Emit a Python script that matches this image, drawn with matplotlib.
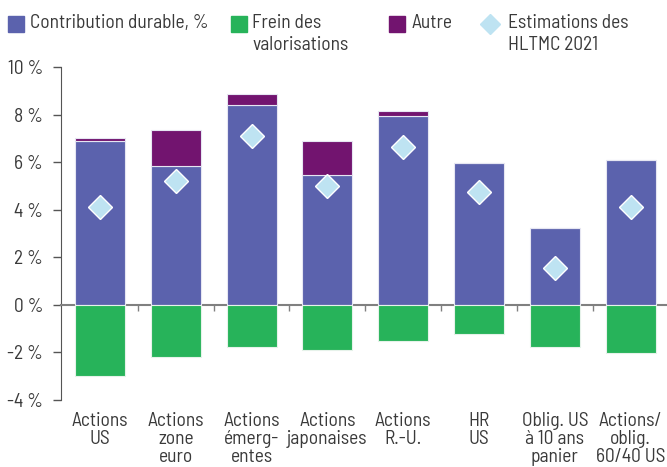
import matplotlib
matplotlib.use('Agg')
import matplotlib.pyplot as plt
import numpy as np
from matplotlib.patches import Rectangle
from matplotlib.lines import Line2D

categories = ["Actions\nUS", "Actions\nzone\neuro", "Actions\némerg-\nentes",
              "Actions\njaponaises", "Actions\nR.-U.", "HR\nUS",
              "Oblig. US\nà 10 ans\npanier", "Actions/\noblig.\n60/40 US"]
durable = [6.9, 5.85, 8.4, 5.45, 7.95, 5.95, 3.25, 6.1]
autre = [0.12, 1.5, 0.45, 1.42, 0.18, 0, 0, 0]
frein = [-2.97, -2.2, -1.78, -1.88, -1.53, -1.23, -1.78, -2.04]
estim = [4.1, 5.2, 7.1, 5.0, 6.65, 4.75, 1.55, 4.1]
yticks = [-4, -2, 0, 2, 4, 6, 8, 10]

c_blue = '#5b62ad'
c_green = '#27b35a'
c_purple = '#72146f'
c_diam = '#bee3f2'
txt = '#3a3a3a'

plt.rcParams['font.family'] = ['Barlow Semi Condensed', 'Archivo Narrow', 'DejaVu Sans']
plt.rcParams['font.size'] = 14

W, H = 667, 467
fig = plt.figure(figsize=(W / 100, H / 100), dpi=100)
ax = fig.add_axes([60.5 / W, 1 - 400 / H, 1 - 60.5 / W, 333 / H])

x = np.arange(len(categories))
w = 0.66
ax.bar(x, durable, w, color=c_blue, edgecolor='#e6e6f2', linewidth=0.8, zorder=3)
ax.bar(x, autre, w, bottom=durable, color=c_purple, edgecolor='#e6e6f2', linewidth=0.8, zorder=3)
ax.bar(x, frein, w, color=c_green, edgecolor='#e6f2ea', linewidth=0.8, zorder=3)
ax.plot(x, estim, 'D', ms=12, color=c_diam, mec='white', mew=1, linestyle='none', zorder=4)

ax.set_xlim(-0.52, 7.48)
ax.set_ylim(-4, 10)
ax.set_yticks(yticks)
ax.set_yticklabels([f'{v} %' for v in yticks], color=txt)
ax.tick_params(axis='y', direction='out', length=5.5, width=1, color='#555555', pad=7)

ax.spines['top'].set_visible(False)
ax.spines['right'].set_visible(False)
ax.spines['left'].set_color('#555555')
ax.spines['bottom'].set_position(('data', 0))
ax.spines['bottom'].set_color('#808080')
ax.spines['bottom'].set_linewidth(1.5)

ax.set_xticks(x)
ax.set_xticklabels(categories, color=txt, linespacing=1.0)
ax.set_xticks(x[:-1] + 0.5, minor=True)
ax.tick_params(axis='x', which='major', length=0, pad=77)
ax.tick_params(axis='x', which='minor', direction='out', length=4, width=1, color='#808080')

# legend drawn by hand so that the markers sit on the first text line
legend_items = [
    ('square', c_blue, 8, 30, "Contribution durable, %"),
    ('square', c_green, 231, 252, "Frein des\nvalorisations"),
    ('square', c_purple, 389, 412, "Autre"),
    ('diamond', c_diam, 480, 508, "Estimations des\nHLTMC 2021"),
]
for kind, col, hx, tx, lab in legend_items:
    if kind == 'square':
        fig.add_artist(Rectangle((hx / W, 1 - 32 / H), 16 / W, 16 / H,
                                 transform=fig.transFigure, color=col))
    else:
        fig.add_artist(Line2D([(hx + 10) / W], [1 - 24 / H], transform=fig.transFigure,
                              marker='D', ms=10, color=c_diam, ls='none'))
    fig.text(tx / W, 1 - 14 / H, lab, color=txt, va='top', ha='left', linespacing=1.3)

fig.savefig('out.png', dpi=100)
